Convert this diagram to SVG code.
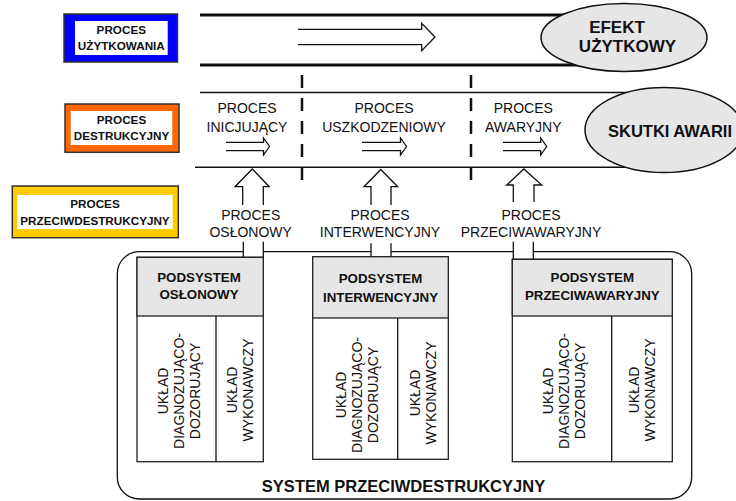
<svg xmlns="http://www.w3.org/2000/svg" width="736" height="501" viewBox="0 0 736 501">
<style>
text{font-family:"Liberation Sans",Arial,sans-serif;fill:#111}
.lb{font-weight:bold;font-size:11.7px;text-anchor:middle}
.pr{font-size:14px;text-anchor:middle}
.hd{font-weight:bold;font-size:13.3px;text-anchor:middle}
.rt{font-size:14px;text-anchor:middle}
.ln{stroke:#111;fill:none}
.box{stroke:#222;stroke-width:1.3;fill:#fff}
.hdr{stroke:#222;stroke-width:1.3;fill:#e6e6e6}
.ell{stroke:#111;stroke-width:1.5;fill:#e6e6e6}
.arr{stroke:#111;stroke-width:1.3;fill:none}
.dash{stroke:#111;stroke-width:2.5;stroke-dasharray:13 10;fill:none}
</style>

<g id="lanes">
<line class="ln" x1="200" y1="15" x2="600" y2="15" stroke-width="3"/>
<line class="ln" x1="200" y1="65" x2="600" y2="65" stroke-width="3"/>
<line class="ln" x1="200" y1="92.5" x2="640" y2="92.5" stroke-width="1.6"/>
<line class="ln" x1="195" y1="167.3" x2="640" y2="167.3" stroke-width="1.6"/>
<line class="dash" x1="302" y1="75" x2="302" y2="183"/>
<line class="dash" x1="471" y1="75" x2="471" y2="183"/>
</g>

<g id="proces-uzytkowania">
<rect x="64" y="14" width="113.5" height="48" fill="#0000ff" stroke="#333" stroke-width="1.5"/>
<rect x="75" y="21" width="92.7" height="34" fill="#fff"/>
<text class="lb" x="121.3" y="33.5">PROCES</text>
<text class="lb" x="121.3" y="49.5">UŻYTKOWANIA</text>
</g>

<g id="proces-destrukcyjny">
<rect x="65" y="104" width="114" height="48.3" fill="#ff6600" stroke="#333" stroke-width="1.5"/>
<rect x="70.7" y="111" width="101.6" height="34" fill="#fff"/>
<text class="lb" x="121.5" y="123.5">PROCES</text>
<text class="lb" x="121.5" y="139.5">DESTRUKCYJNY</text>
</g>

<g id="proces-przeciwdestrukcyjny">
<rect x="12.3" y="186" width="166" height="51.7" fill="#ffcc00" stroke="#333" stroke-width="1.5"/>
<rect x="17.3" y="195" width="155.4" height="34" fill="#fff"/>
<text class="lb" x="95" y="207.5">PROCES</text>
<text class="lb" x="95" y="224.5">PRZECIWDESTRUKCYJNY</text>
</g>

<g id="efekt-uzytkowy">
<ellipse class="ell" cx="624" cy="37.5" rx="83" ry="34"/>
<text x="617" y="33" font-weight="bold" font-size="17" text-anchor="middle">EFEKT</text>
<text x="627.5" y="51.5" font-weight="bold" font-size="17" text-anchor="middle">UŻYTKOWY</text>
</g>

<g id="skutki-awarii">
<ellipse class="ell" cx="664" cy="130" rx="79" ry="42.5"/>
<text x="670" y="137" font-weight="bold" font-size="16.5" text-anchor="middle">SKUTKI AWARII</text>
</g>

<g id="proces-inicjujacy">
<text class="pr" x="247" y="113">PROCES</text>
<text class="pr" x="247" y="131.7">INICJUJĄCY</text>
</g>
<g id="proces-uszkodzeniowy">
<text class="pr" x="384" y="113">PROCES</text>
<text class="pr" x="384" y="131.7">USZKODZENIOWY</text>
</g>
<g id="proces-awaryjny">
<text class="pr" x="523.3" y="113">PROCES</text>
<text class="pr" x="523.3" y="131.7">AWARYJNY</text>
</g>

<g id="proces-oslonowy">
<text class="pr" x="250.7" y="220">PROCES</text>
<text class="pr" x="250.7" y="236.7">OSŁONOWY</text>
</g>
<g id="proces-interwencyjny">
<text class="pr" x="380" y="220">PROCES</text>
<text class="pr" x="380" y="236.7">INTERWENCYJNY</text>
</g>
<g id="proces-przeciwawaryjny">
<text class="pr" x="531" y="220">PROCES</text>
<text class="pr" x="531" y="236.7">PRZECIWAWARYJNY</text>
</g>

<g id="system-przeciwdestrukcyjny">
<path class="ln" stroke-width="1.3" d="M243.3,251.7 H139.3 A22,22 0 0 0 117.3,273.7 V477 A22,22 0 0 0 139.3,499 H669.7 A22,22 0 0 0 691.7,477 V273.7 A22,22 0 0 0 669.7,251.7 H533.3"/>
<path class="ln" stroke-width="1.3" d="M263.3,251.7 H371 M391,251.7 H513.3"/>
<text x="403.5" y="492" font-weight="bold" font-size="16.5" text-anchor="middle">SYSTEM PRZECIWDESTRUKCYJNY</text>
</g>

<g id="podsystem-oslonowy">
<rect class="box" x="137" y="257.3" width="126.3" height="204.4"/>
<rect class="hdr" x="137" y="257.3" width="126.3" height="58.7"/>
<line class="ln" stroke-width="1.3" x1="216" y1="316" x2="216" y2="461.7"/>
<text class="hd" x="199" y="282">PODSYSTEM</text>
<text class="hd" x="199" y="299">OSŁONOWY</text>
<g transform="translate(179,391) rotate(-90)">
<text class="rt" x="0" y="-11">UKŁAD</text>
<text class="rt" x="0" y="5">DIAGNOZUJĄCO-</text>
<text class="rt" x="0" y="21">DOZORUJĄCY</text>
</g>
<g transform="translate(239.5,390) rotate(-90)">
<text class="rt" x="0" y="-3">UKŁAD</text>
<text class="rt" x="0" y="13">WYKONAWCZY</text>
</g>
</g>

<g id="podsystem-interwencyjny">
<rect class="box" x="312.7" y="256.7" width="135.6" height="202.6"/>
<rect class="hdr" x="312.7" y="256.7" width="135.6" height="61.3"/>
<line class="ln" stroke-width="1.3" x1="397.7" y1="318" x2="397.7" y2="459.3"/>
<text class="hd" x="380.5" y="283">PODSYSTEM</text>
<text class="hd" x="380.5" y="301.5">INTERWENCYJNY</text>
<g transform="translate(357,395) rotate(-90)">
<text class="rt" x="0" y="-11">UKŁAD</text>
<text class="rt" x="0" y="5">DIAGNOZUJĄCO-</text>
<text class="rt" x="0" y="21">DOZORUJĄCY</text>
</g>
<g transform="translate(423,393) rotate(-90)">
<text class="rt" x="0" y="-3">UKŁAD</text>
<text class="rt" x="0" y="13">WYKONAWCZY</text>
</g>
</g>

<g id="podsystem-przeciwawaryjny">
<rect class="box" x="512.3" y="259.3" width="160" height="202.4"/>
<rect class="hdr" x="512.3" y="259.3" width="160" height="56.7"/>
<line class="ln" stroke-width="1.3" x1="611.7" y1="316" x2="611.7" y2="461.7"/>
<text class="hd" x="592.3" y="282">PODSYSTEM</text>
<text class="hd" x="592.3" y="300">PRZECIWAWARYJNY</text>
<g transform="translate(564,391) rotate(-90)">
<text class="rt" x="0" y="-11">UKŁAD</text>
<text class="rt" x="0" y="5">DIAGNOZUJĄCO-</text>
<text class="rt" x="0" y="21">DOZORUJĄCY</text>
</g>
<g transform="translate(642,390) rotate(-90)">
<text class="rt" x="0" y="-3">UKŁAD</text>
<text class="rt" x="0" y="13">WYKONAWCZY</text>
</g>
</g>

<g id="connectors">
<path class="arr" d="M298,29.3 H421.7 V23.3 L435,37 L421.7,50.7 V44.7 H298"/>
<path class="arr" d="M226,142.3 H263.5 V138 L269.5,146.5 L263.5,155 V150.7 H226"/>
<path class="arr" d="M362,142.3 H400.5 V138 L406.5,146.5 L400.5,155 V150.7 H362"/>
<path class="arr" d="M503,142.3 H540.7 V138 L546.7,146.5 L540.7,155 V150.7 H503"/>
<path class="arr" d="M242.7,205 V186.7 H235 L252.3,169 L269.3,186.7 H263.3 V205"/>
<path class="arr" d="M371,205 V186.7 H364 L380.8,169.5 L397.7,186.7 H391 V205"/>
<path class="arr" d="M513.3,202 V185 H506.7 L523.8,169 L541.7,185 H534 V202"/>
<path class="arr" d="M243.3,241.7 V257.3 M263.3,241.7 V257.3"/>
<path class="arr" d="M371,243.3 V256.7 M391,243.3 V256.7"/>
<path class="arr" d="M513.3,241.7 V259.3 M533.3,241.7 V259.3"/>
</g>
</svg>
